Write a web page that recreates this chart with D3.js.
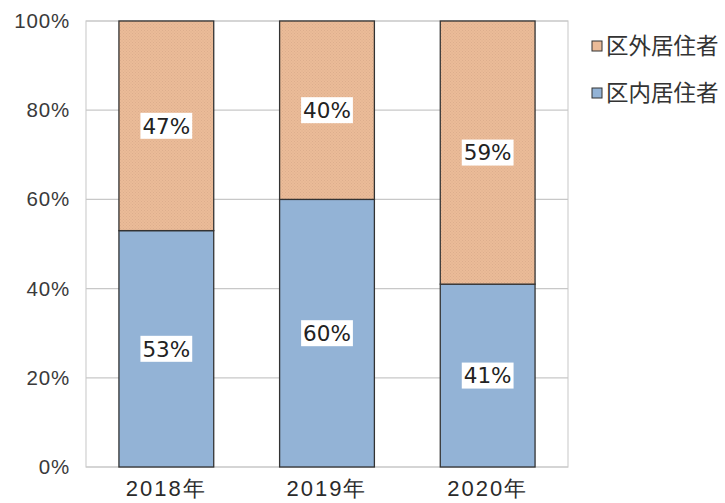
<!DOCTYPE html>
<html>
<head>
<meta charset="utf-8">
<script src="https://cdn.jsdelivr.net/npm/d3@7"></script>
<style>
  html, body { margin: 0; padding: 0; background: #fff; }
  svg { display: block; font-family: "DejaVu Sans", "Noto Sans CJK JP", sans-serif; }
</style>
</head>
<body>
<svg id="chart" width="725" height="503"></svg>
<script>
// Share of residents by year (percent)
const years = ["2018年", "2019年", "2020年"];
const inside = [53, 60, 41];   // 区内居住者
const outside = [47, 40, 59];  // 区外居住者
const seriesNames = ["区内居住者", "区外居住者"];
const yTicks = [0, 20, 40, 60, 80, 100];

const svg = d3.select("#chart");
const margin = { left: 86, right: 157, top: 21, bottom: 36 };
const W = 725, H = 503;
const x0 = margin.left, x1 = W - margin.right;
const y0 = H - margin.bottom, y1 = margin.top;

const x = d3.scaleBand().domain(years).range([x0, x1]).paddingInner(0.41).paddingOuter(0.205);
const y = d3.scaleLinear().domain([0, 100]).range([y0, y1]);

// Dotted texture for the upper series
const defs = svg.append("defs");
const pat = defs.append("pattern").attr("id", "dots")
  .attr("width", 3).attr("height", 3).attr("patternUnits", "userSpaceOnUse");
pat.append("rect").attr("width", 3).attr("height", 3).attr("fill", "#ebbb98");
pat.append("rect").attr("x", 0).attr("y", 0).attr("width", 1).attr("height", 1).attr("fill", "#dcae8d");
pat.append("rect").attr("x", 1.5).attr("y", 1.5).attr("width", 1).attr("height", 1).attr("fill", "#dcae8d");

// Plot frame and gridlines
svg.append("rect").attr("x", x0).attr("y", y1).attr("width", x1 - x0).attr("height", y0 - y1)
  .attr("fill", "none").attr("stroke", "#d0d0d0").attr("stroke-width", 1.2);
svg.append("g").selectAll("line").data(yTicks).join("line")
  .attr("x1", x0).attr("x2", x1)
  .attr("y1", d => y(d)).attr("y2", d => y(d))
  .attr("stroke", "#c8c8c8").attr("stroke-width", 1.2);

// Y axis labels
const yAxis = d3.axisLeft(y).tickValues(yTicks).tickFormat(d => d + "%").tickSize(0).tickPadding(16);
const gy = svg.append("g").attr("transform", `translate(${x0},0)`).call(yAxis);
gy.select(".domain").remove();
gy.selectAll("text").attr("font-size", 20.5).attr("letter-spacing", 0.8)
  .attr("fill", "#3a3a3a").attr("font-family", "inherit");

// X axis labels
const xAxis = d3.axisBottom(x).tickSize(0).tickPadding(13);
const gx = svg.append("g").attr("transform", `translate(0,${y0})`).call(xAxis);
gx.select(".domain").remove();
gx.selectAll("text").attr("font-size", 22).attr("letter-spacing", 2)
  .attr("fill", "#2a2a2a").attr("font-family", "inherit");

const rows = years.map((yr, i) => ({ year: yr, inside: inside[i], outside: outside[i] }));
const stack = d3.stack().keys(["inside", "outside"])(rows);
const fills = { inside: "#93b3d6", outside: "url(#dots)" };

const layers = svg.append("g").selectAll("g").data(stack).join("g")
  .attr("fill", d => fills[d.key]);
layers.selectAll("rect").data(d => d).join("rect")
  .attr("x", d => x(d.data.year))
  .attr("width", x.bandwidth())
  .attr("y", d => y(d[1]))
  .attr("height", d => y(d[0]) - y(d[1]))
  .attr("stroke", "#333").attr("stroke-width", 1.3);

// Value labels on white boxes
stack.forEach(layer => {
  layer.forEach(d => {
    const v = d[1] - d[0];
    const cx = x(d.data.year) + x.bandwidth() / 2;
    const cy = (y(d[0]) + y(d[1])) / 2;
    const g = svg.append("g");
    const t = g.append("text").attr("x", cx).attr("y", cy).attr("dy", "0.36em")
      .attr("text-anchor", "middle").attr("font-size", 21.5).attr("fill", "#222")
      .text(v + "%");
    const b = t.node().getBBox();
    g.insert("rect", "text").attr("x", b.x - 2).attr("y", cy - 13).attr("width", b.width + 4).attr("height", 26)
      .attr("fill", "#fff");
  });
});

// Legend (upper series first)
const legendItems = [
  { name: seriesNames[1], fill: "#ebbb98" },
  { name: seriesNames[0], fill: "#93b3d6" }
];
const lg = svg.append("g").selectAll("g").data(legendItems).join("g")
  .attr("transform", (d, i) => `translate(592,${46 + i * 47})`);
lg.append("rect").attr("x", 0).attr("y", -5).attr("width", 10).attr("height", 10)
  .attr("fill", d => d.fill).attr("stroke", "#333").attr("stroke-width", 1);
lg.append("text").attr("x", 14).attr("y", 0).attr("dy", "0.36em")
  .attr("font-family", "Noto Sans CJK JP")
  .attr("font-size", 22.5).attr("fill", "#333").text(d => d.name);
</script>
</body>
</html>
